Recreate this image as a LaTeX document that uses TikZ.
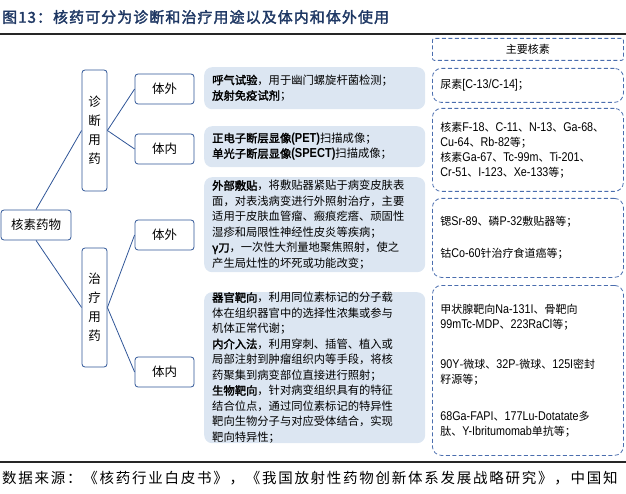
\documentclass[tikz,border=0pt]{standalone}
\usepackage{fontspec}
\setmainfont{Noto Sans CJK SC}[AutoFakeBold=2]
\newfontfamily\narrowfont{Liberation Sans}[FakeStretch=0.85, Scale=1.15]
\usepackage{xcolor}
\definecolor{treeblue}{HTML}{2F5597}
\definecolor{panelfill}{HTML}{DCE6F2}
\definecolor{dashblue}{HTML}{4A6DAE}
\definecolor{titlenavy}{HTML}{1F3864}
\definecolor{rulegray}{HTML}{262626}
\newcommand{\latn}[1]{{\narrowfont #1}}
\tikzset{
  treebox/.style={draw=treeblue, line width=0.8pt, rounded corners=3pt, fill=white,
    inner sep=0pt, align=center, font=\fontsize{12.5}{19}\selectfont},
  branch/.style={treeblue, line width=0.8pt},
  panel/.style={fill=panelfill, rounded corners=8pt, anchor=north west,
    inner xsep=8pt, inner ysep=0pt, minimum width=221pt, text width=205pt,
    align=left, font=\fontsize{11.3}{15.5}\selectfont},
  isobox/.style={draw=dashblue, line width=0.8pt, dash pattern=on 4pt off 2.5pt,
    rounded corners=9pt, anchor=north west, inner xsep=8pt, inner ysep=0pt,
    minimum width=191pt, text width=175pt, align=left,
    font=\fontsize{11}{15}\selectfont},
}

\begin{document}
\begin{tikzpicture}[x=1pt, y=-1pt]
  \useasboundingbox (0,0) rectangle (626,494);
  % Title and rules
  \node[anchor=west, inner sep=0pt, text=titlenavy,
    font=\fontsize{15}{18}\selectfont\bfseries\addfontfeature{LetterSpace=7}] (title) at (2,17)
    {图13：核药可分为诊断和治疗用途以及体内和体外使用};
  \draw[rulegray, line width=1.6pt] (0,34) -- (626,34);
  \draw[rulegray, line width=1.6pt] (0,462) -- (626,462);
  \node[anchor=west, inner sep=0pt,
    font=\fontsize{14.5}{17}\selectfont\addfontfeature{LetterSpace=12}] (source) at (2,478)
    {数据来源：《核药行业白皮书》，《我国放射性药物创新体系发展战略研究》，中国知};

  % Tree
  \node[treebox, minimum width=70pt, minimum height=30pt] (root) at (36,225) {核素药物};
  \node[treebox, minimum width=25pt, minimum height=121pt] (diag) at (94.5,130.5) {诊\\断\\用\\药};
  \node[treebox, minimum width=25pt, minimum height=119pt] (ther) at (94.5,307.5) {治\\疗\\用\\药};
  \node[treebox, minimum width=59pt, minimum height=30pt] (dout) at (164.5,89) {体外};
  \node[treebox, minimum width=59pt, minimum height=30pt] (din) at (164.5,149) {体内};
  \node[treebox, minimum width=59pt, minimum height=30pt] (tout) at (164.5,235) {体外};
  \node[treebox, minimum width=59pt, minimum height=30pt] (tin) at (164.5,372) {体内};
  \draw[branch] (root.north) -- (diag.west);
  \draw[branch] (root.south) -- (ther.west);
  \draw[branch] (diag.east) -- (dout.west);
  \draw[branch] (diag.east) -- (din.west);
  \draw[branch] (ther.east) -- (tout.west);
  \draw[branch] (ther.east) -- (tin.west);

  % Usage panels
  \node[panel, minimum height=42pt] (breath) at (204,67) {%
    \textbf{呼气试验}，用于幽门螺旋杆菌检测；\\
    \textbf{放射免疫试剂}；};
  \node[panel, minimum height=41pt] (imaging) at (204,126) {%
    \textbf{正电子断层显像\latn{(PET)}}扫描成像；\\
    \textbf{单光子断层显像\latn{(SPECT)}}扫描成像；};
  \node[panel, minimum height=95pt] (external) at (204,177) {%
    \textbf{外部敷贴}，将敷贴器紧贴于病变皮肤表\\
    面，对表浅病变进行外照射治疗，主要\\
    适用于皮肤血管瘤、瘢痕疙瘩、顽固性\\
    湿疹和局限性神经性皮炎等疾病；\\
    \textbf{γ刀}，一次性大剂量地聚焦照射，使之\\
    产生局灶性的坏死或功能改变；};
  \node[panel, minimum height=151pt] (internal) at (204,292) {%
    \textbf{器官靶向}，利用同位素标记的分子载\\
    体在组织器官中的选择性浓集或参与\\
    机体正常代谢；\\
    \textbf{内介入法}，利用穿刺、插管、植入或\\
    局部注射到肿瘤组织内等手段，将核\\
    药聚集到病变部位直接进行照射；\\
    \textbf{生物靶向}，针对病变组织具有的特征\\
    结合位点，通过同位素标记的特异性\\
    靶向生物分子与对应受体结合，实现\\
    靶向特异性；};

  % Main nuclides
  \node[isobox, rounded corners=2pt, align=center, minimum height=22pt] (isohead) at (432,38) {主要核素};
  \node[isobox, minimum height=34pt] (urea) at (432,68) {尿素\latn{[C-13/C-14]}；};
  \node[isobox, minimum height=83pt] (tracer) at (432,108) {%
    核素\latn{F-18}、\latn{C-11}、\latn{N-13}、\latn{Ga-68}、\\
    \latn{Cu-64}、\latn{Rb-82}等；\\
    核素\latn{Ga-67}、\latn{Tc-99m}、\latn{Ti-201}、\\
    \latn{Cr-51}、\latn{I-123}、\latn{Xe-133}等；};
  \node[isobox, minimum height=79pt] (patch) at (432,198) {%
    锶\latn{Sr-89}、磷\latn{P-32}敷贴器等；\\[17pt]
    钴\latn{Co-60}针治疗食道癌等；};
  \node[isobox, minimum height=170pt] (target) at (432,285) {%
    甲状腺靶向\latn{Na-131I}、骨靶向\\
    \latn{99mTc-MDP}、\latn{223RaCl}等；\\[25pt]
    \latn{90Y}-微球、\latn{32P}-微球、\latn{125I}密封\\
    籽源等；\\[22pt]
    \latn{68Ga-FAPI}、\latn{177Lu-Dotatate}多\\
    肽、\latn{Y-Ibritumomab}单抗等；};
\end{tikzpicture}
\end{document}
